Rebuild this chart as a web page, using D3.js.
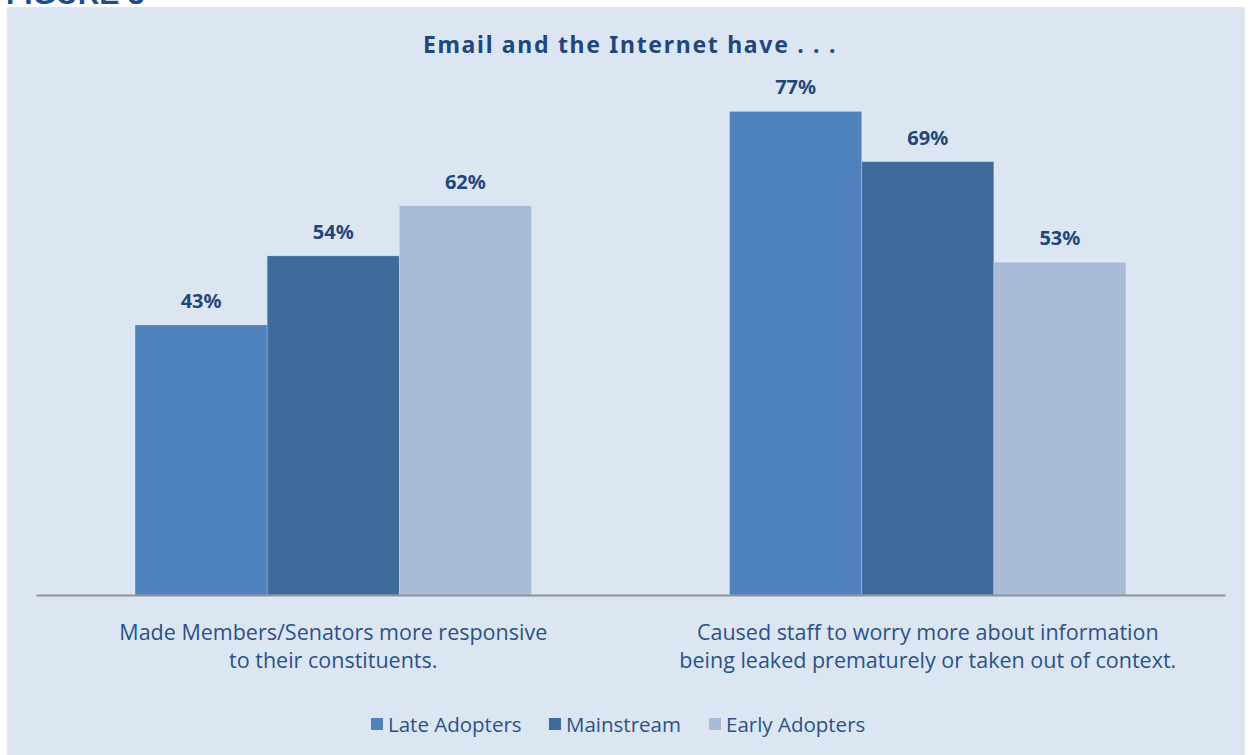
<!DOCTYPE html>
<html><head><meta charset="utf-8">
<script src="https://cdn.jsdelivr.net/npm/d3@7/dist/d3.min.js"></script>
<style>body{margin:0;background:#fff;}svg{display:block;}</style>
</head><body>
<svg id="c" width="1252" height="755"></svg>
<script>
const categories = [
  ["Made Members/Senators more responsive", "to their constituents."],
  ["Caused staff to worry more about information", "being leaked prematurely or taken out of context."]
];
const seriesNames = ["Late Adopters", "Mainstream", "Early Adopters"];
const lateAdopters = [43, 77];
const mainstream = [54, 69];
const earlyAdopters = [62, 53];
const colors = ["#4f81bd", "#3f6a9c", "#aabbd8"];
const title = "Email and the Internet have . . .";

const values = [lateAdopters, mainstream, earlyAdopters];
const svg = d3.select("#c");
const textColor = "#1f477c";

svg.append("text").attr("x", 6).attr("y", 4).attr("font-family", "Liberation Sans, Arial").attr("font-weight", "bold")
  .attr("font-size", 30).attr("fill", "#1f4e85").text("FIGURE 3");
svg.append("rect").attr("x", 7).attr("y", 7).attr("width", 1238).attr("height", 748).attr("fill", "#dce6f2");

const x0 = d3.scaleBand().domain(d3.range(categories.length)).range([36, 1225]).paddingInner(1/3).paddingOuter(1/6);
const x1 = d3.scaleBand().domain(seriesNames).range([0, x0.bandwidth()]);
const y = d3.scaleLinear().domain([0, 100]).range([595, -33]);

svg.append("text").attr("x", 630).attr("y", 53).attr("text-anchor", "middle")
  .attr("font-family", "Noto Sans, sans-serif").attr("font-weight", "bold").attr("font-size", 23)
  .attr("letter-spacing", 1.7).attr("fill", textColor).text(title);

const groups = svg.selectAll("g.grp").data(categories).join("g").attr("class", "grp")
  .attr("transform", (d, i) => `translate(${x0(i)},0)`);

groups.each(function(cat, ci) {
  const g = d3.select(this);
  seriesNames.forEach((s, si) => {
    const v = values[si][ci];
    g.append("rect").attr("x", x1(s)).attr("y", y(v)).attr("width", x1.bandwidth()).attr("height", y(0) - y(v))
      .attr("fill", colors[si]).attr("stroke", "rgba(255,255,255,0.25)").attr("stroke-width", 0.8);
    g.append("text").attr("x", x1(s) + x1.bandwidth() / 2).attr("y", y(v) - 17).attr("text-anchor", "middle")
      .attr("font-family", "Noto Sans, sans-serif").attr("font-weight", "bold").attr("font-size", 20)
      .attr("fill", textColor).text(v + "%");
  });
  cat.forEach((line, li) => {
    g.append("text").attr("x", x0.bandwidth() / 2).attr("y", 640 + li * 28).attr("text-anchor", "middle")
      .attr("font-family", "Open Sans, sans-serif").attr("font-size", 21.5).attr("fill", "#2b5187").text(line);
  });
});

const xAxis = d3.axisBottom(x0).tickSize(0).tickFormat("");
svg.append("g").attr("transform", "translate(0,595)").call(xAxis)
  .call(g => g.select(".domain").attr("stroke", "#8c939c").attr("stroke-width", 2));

const legendX = [371, 549, 709];
const lg = svg.append("g");
seriesNames.forEach((s, i) => {
  lg.append("rect").attr("x", legendX[i]).attr("y", 718).attr("width", 12).attr("height", 12).attr("fill", colors[i]);
  lg.append("text").attr("x", legendX[i] + 17).attr("y", 732).attr("font-family", "Open Sans, sans-serif")
    .attr("font-size", 20.5).attr("fill", "#2b5187").text(s);
});
</script>
</body></html>
